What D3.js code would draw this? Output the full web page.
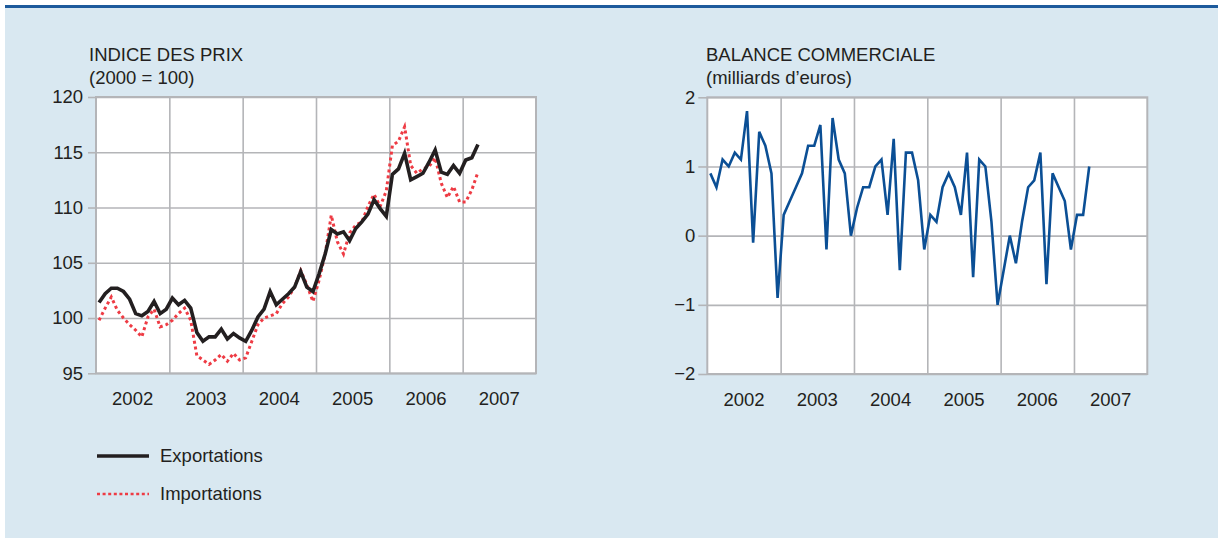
<!DOCTYPE html>
<html>
<head>
<meta charset="utf-8">
<script src="https://cdn.jsdelivr.net/npm/d3@7"></script>
<style>
  body { margin: 0; background: #fff; }
  text { font-family: "Liberation Sans", Arial, sans-serif; fill: #231f20; }
</style>
</head>
<body>
<div id="viz"></div>
<script>
// monthly values, Jan 2002 -> Mar 2007
const exportations = [
  101.4, 102.2, 102.7, 102.7, 102.4, 101.7, 100.4, 100.2, 100.6, 101.5, 100.4, 100.8,
  101.8, 101.2, 101.6, 100.9, 98.7, 97.9, 98.3, 98.3, 99.0, 98.1, 98.6, 98.2,
  97.9, 98.9, 100.1, 100.8, 102.4, 101.2, 101.7, 102.2, 102.8, 104.2, 102.8, 102.4,
  104.0, 105.8, 108.0, 107.6, 107.8, 107.0, 108.1, 108.7, 109.4, 110.7, 109.9, 109.2,
  113.0, 113.5, 114.9, 112.5, 112.8, 113.1, 114.1, 115.2, 113.2, 113.0, 113.8, 113.1,
  114.3, 114.5, 115.7
];
const importations = [
  99.8, 100.9, 101.9, 100.7, 100.0, 99.4, 98.9, 98.3, 100.1, 100.8, 99.2, 99.4,
  99.8, 100.4, 100.9, 99.8, 96.6, 96.2, 95.8, 96.2, 96.7, 96.1, 96.8, 96.2,
  96.4, 97.9, 99.4, 100.0, 100.2, 100.4, 101.3, 101.9, 102.8, 104.3, 103.0, 101.5,
  103.4, 105.8, 109.3, 106.9, 105.8, 107.7, 108.4, 108.7, 110.1, 111.2, 110.1, 111.5,
  115.6, 116.0, 117.3, 113.8, 113.1, 113.5, 113.7, 114.5, 112.2, 110.9, 111.9, 110.5,
  110.5, 111.6, 113.2
];
const balance = [
  0.9, 0.7, 1.1, 1.0, 1.2, 1.1, 1.8, -0.1, 1.5, 1.3, 0.9, -0.9,
  0.3, 0.5, 0.7, 0.9, 1.3, 1.3, 1.6, -0.2, 1.7, 1.1, 0.9, 0.0,
  0.4, 0.7, 0.7, 1.0, 1.1, 0.3, 1.4, -0.5, 1.2, 1.2, 0.8, -0.2,
  0.3, 0.2, 0.7, 0.9, 0.7, 0.3, 1.2, -0.6, 1.1, 1.0, 0.2, -1.0,
  -0.5, 0.0, -0.4, 0.2, 0.7, 0.8, 1.2, -0.7, 0.9, 0.7, 0.5, -0.2,
  0.3, 0.3, 1.0
];
const years = ["2002", "2003", "2004", "2005", "2006", "2007"];
const prixTicks = [95, 100, 105, 110, 115, 120];
const balanceTicks = [-2, -1, 0, 1, 2];

const W = 1222, H = 541;
const gridColor = "#b4b5b8";
const fontSize = 18.5;

const svg = d3.select("#viz").append("svg")
    .attr("width", W)
    .attr("height", H);

// background panel
svg.append("rect")
    .attr("x", 5).attr("y", 7)
    .attr("width", 1213).attr("height", 531)
    .attr("fill", "#d9e8f1");
svg.append("line")
    .attr("x1", 5).attr("x2", 1218)
    .attr("y1", 6.5).attr("y2", 6.5)
    .attr("stroke", "#1d5a9c")
    .attr("stroke-width", 3);

function drawChart(cfg) {
    const w = cfg.x1 - cfg.x0, h = cfg.y1 - cfg.y0;
    const x = d3.scaleLinear().domain([0, years.length * 12]).range([cfg.x0, cfg.x1]);
    const y = d3.scaleLinear().domain(d3.extent(cfg.ticks)).range([cfg.y1, cfg.y0]);

    const g = svg.append("g");

    g.append("rect")
        .attr("x", cfg.x0).attr("y", cfg.y0)
        .attr("width", w).attr("height", h)
        .attr("fill", "#fff");

    // vertical grid at year boundaries
    g.append("g")
        .attr("transform", `translate(0, ${cfg.y1})`)
        .call(d3.axisBottom(x).tickValues(d3.range(12, years.length * 12, 12)).tickSize(-h).tickFormat(""))
        .call(a => a.select(".domain").remove())
        .call(a => a.selectAll("line").attr("stroke", gridColor).attr("stroke-width", 1.6));

    // horizontal grid
    g.append("g")
        .attr("transform", `translate(${cfg.x0}, 0)`)
        .call(d3.axisLeft(y).tickValues(cfg.ticks).tickSize(-w).tickFormat(""))
        .call(a => a.select(".domain").remove())
        .call(a => a.selectAll("line").attr("stroke", gridColor).attr("stroke-width", 1.6));

    // frame
    g.append("rect")
        .attr("x", cfg.x0).attr("y", cfg.y0)
        .attr("width", w).attr("height", h)
        .attr("fill", "none")
        .attr("stroke", gridColor)
        .attr("stroke-width", 2);

    // y axis with outside ticks
    g.append("g")
        .attr("transform", `translate(${cfg.x0}, 0)`)
        .call(d3.axisLeft(y).tickValues(cfg.ticks).tickSize(cfg.tickSize).tickPadding(cfg.tickPad)
            .tickFormat(d => d3.format("d")(d).replace("-", "\u2212")))
        .call(a => a.select(".domain").remove())
        .call(a => a.selectAll("line").attr("stroke", gridColor).attr("stroke-width", 1.6))
        .call(a => a.selectAll("text").attr("font-size", fontSize).attr("font-family", null).attr("fill", "#231f20"));

    // year labels
    g.selectAll(".year")
        .data(years)
        .enter().append("text")
            .attr("x", (d, i) => x(i * 12 + 6))
            .attr("y", cfg.y1 + 32)
            .attr("text-anchor", "middle")
            .attr("font-size", fontSize)
            .text(d => d);

    // titles
    cfg.titles.forEach((t, i) => {
        g.append("text")
            .attr("x", cfg.titleX)
            .attr("y", 61 + i * 23)
            .attr("font-size", fontSize)
            .text(t);
    });

    const line = d3.line()
        .x((d, i) => x(i + 0.5))
        .y(d => y(d));

    cfg.series.forEach(s => {
        g.append("path")
            .datum(s.values)
            .attr("fill", "none")
            .attr("stroke", s.color)
            .attr("stroke-width", s.width)
            .attr("stroke-dasharray", s.dash || null)
            .attr("stroke-linejoin", "miter")
            .attr("d", line);
    });
}

drawChart({
    x0: 96, x1: 536, y0: 97, y1: 373.3,
    ticks: prixTicks, tickSize: 8, tickPad: 5, titleX: 89,
    titles: ["INDICE DES PRIX", "(2000 = 100)"],
    series: [
        {values: importations, color: "#ee3b44", width: 3, dash: "3,3"},
        {values: exportations, color: "#231f20", width: 3.6}
    ]
});

drawChart({
    x0: 707.3, x1: 1147.3, y0: 97.3, y1: 374,
    ticks: balanceTicks, tickSize: 9, tickPad: 3, titleX: 706,
    titles: ["BALANCE COMMERCIALE", "(milliards d\u2019euros)"],
    series: [
        {values: balance, color: "#0b4f95", width: 2.6}
    ]
});

// legend
const legend = [
    {label: "Exportations", color: "#231f20", width: 3.6, dash: null, y: 456},
    {label: "Importations", color: "#ee3b44", width: 2.6, dash: "3,2.6", y: 494}
];
const lg = svg.append("g");
legend.forEach(d => {
    lg.append("line")
        .attr("x1", 97).attr("x2", 149)
        .attr("y1", d.y).attr("y2", d.y)
        .attr("stroke", d.color)
        .attr("stroke-width", d.width)
        .attr("stroke-dasharray", d.dash);
    lg.append("text")
        .attr("x", 160).attr("y", d.y)
        .attr("dy", "0.35em")
        .attr("font-size", fontSize)
        .text(d.label);
});
</script>
</body>
</html>
